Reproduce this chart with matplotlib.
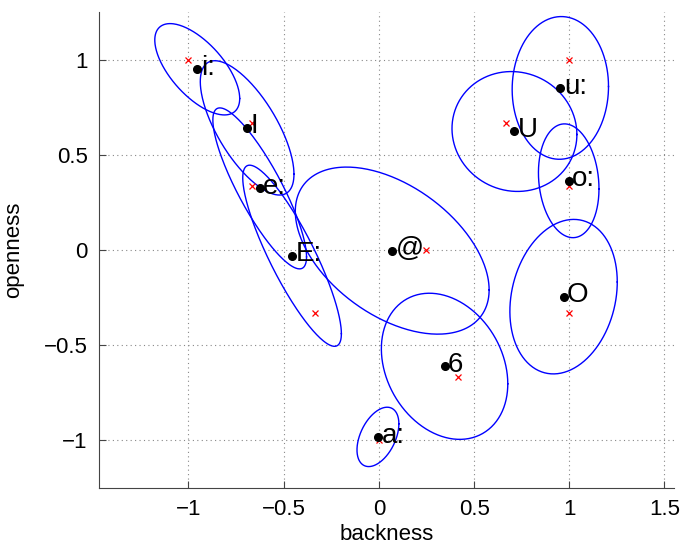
import numpy as np
import matplotlib
matplotlib.use("Agg")
import matplotlib.pyplot as plt

plt.rcParams['font.family'] = ['Liberation Sans', 'DejaVu Sans']

# vowel labels
labels = ["i:", "I", "e:", "E:", "@", "a:", "6", "O", "o:", "U", "u:"]
# measured means (black dots) -- backness, openness
mean_x = [-0.954, -0.692, -0.626, -0.456, 0.070, -0.005, 0.345, 0.970, 0.997, 0.712, 0.953]
mean_y = [0.949, 0.641, 0.323, -0.031, -0.004, -0.983, -0.612, -0.246, 0.363, 0.622, 0.851]
# target positions (red crosses)
target_x = [-1.0, -0.667, -0.667, -0.333, 0.25, 0.0, 0.417, 1.0, 1.0, 0.667, 1.0]
target_y = [1.0, 0.667, 0.333, -0.333, 0.0, -1.0, -0.667, -0.333, 0.333, 0.667, 1.0]
# ellipse half-extents along x and y, and correlation
ell_sx = [0.223, 0.246, 0.246, 0.259, 0.509, 0.110, 0.332, 0.282, 0.159, 0.328, 0.253]
ell_sy = [0.240, 0.353, 0.423, 0.476, 0.439, 0.156, 0.384, 0.406, 0.299, 0.315, 0.375]
ell_rho = [-0.64, -0.69, -0.85, -0.86, -0.47, 0.44, -0.24, 0.19, -0.14, -0.05, 0.02]

xticks = [-1, -0.5, 0, 0.5, 1, 1.5]
yticks = [-1, -0.5, 0, 0.5, 1]

fig = plt.figure(figsize=(6.86, 5.47), dpi=100)
ax = fig.add_axes([99/686, 1-487.7/547, (674-99)/686, (487.7-12)/547])

t = np.linspace(0, 2*np.pi, 300)
for cx, cy, sx, sy, r in zip(mean_x, mean_y, ell_sx, ell_sy, ell_rho):
    ex = cx + sx*np.cos(t)
    ey = cy + sy*(r*np.cos(t) + np.sqrt(1-r*r)*np.sin(t))
    ax.plot(ex, ey, color='#0000ff', lw=1.0, zorder=2)

ax.plot(target_x, target_y, 'x', color='#ff0000', ms=4.5, mew=0.9, zorder=3)
ax.plot(mean_x, mean_y, 'o', color='black', ms=5.5, zorder=4)
for lx, ly, lab in zip(mean_x, mean_y, labels):
    ax.annotate(lab, (lx, ly), xytext=(2.5, 1), textcoords='offset points',
                fontsize=20, va='center', ha='left', zorder=5)

ax.set_xlim(-1.47, 1.55)
ax.set_ylim(-1.25, 1.25)
ax.set_xticks(xticks)
ax.set_yticks(yticks)
ax.set_xticklabels(['\u22121', '\u22120.5', '0', '0.5', '1', '1.5'])
ax.set_yticklabels(['\u22121', '\u22120.5', '0', '0.5', '1'])
ax.grid(True, color='#888888', linestyle=(0, (1, 3)), lw=0.8)
ax.set_axisbelow(True)
ax.spines['top'].set_visible(False)
ax.spines['right'].set_visible(False)
for s in ['left', 'bottom']:
    ax.spines[s].set_color('#444444')
ax.tick_params(direction='in', length=5, labelsize=16, colors='#444444', labelcolor='black', pad=8)
ax.set_xlabel('backness', fontsize=16, labelpad=3)
ax.set_ylabel('openness', fontsize=16, labelpad=14)

fig.savefig('out.png', dpi=100)
